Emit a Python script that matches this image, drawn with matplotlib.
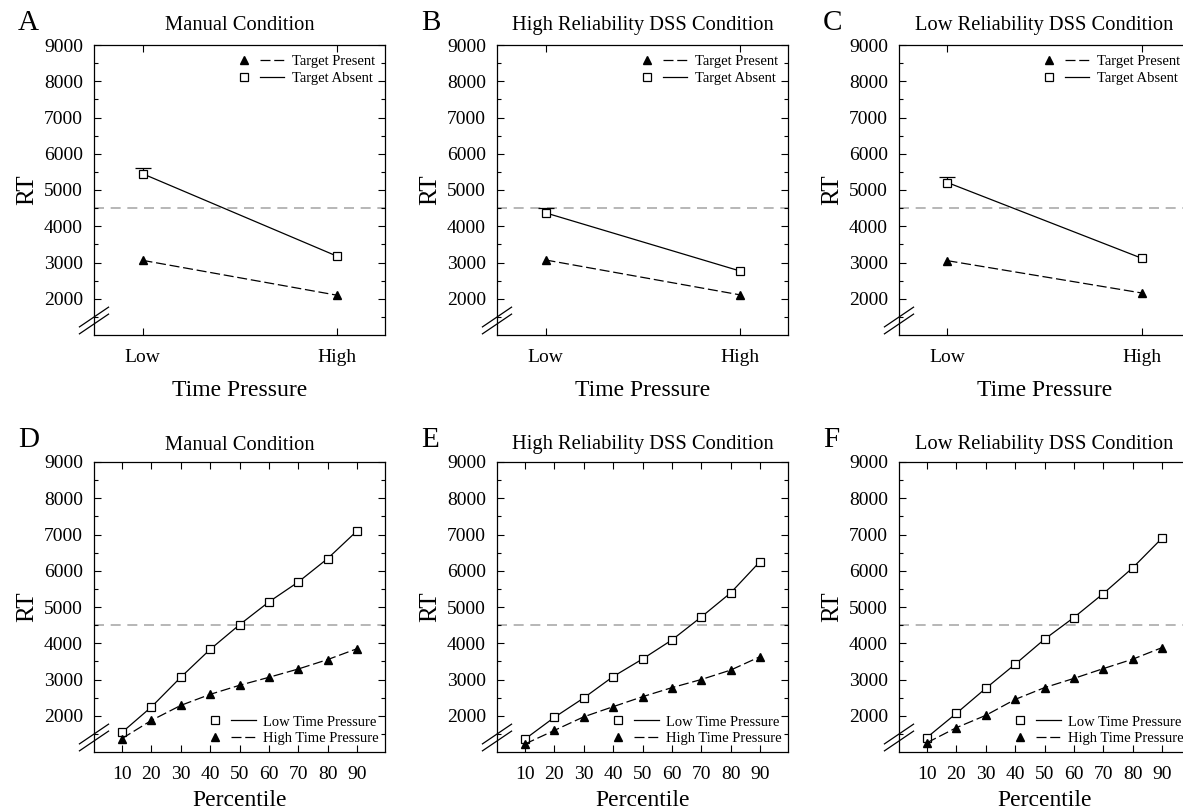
import matplotlib
matplotlib.use("Agg")
import matplotlib.pyplot as plt
from matplotlib.lines import Line2D
from matplotlib.legend_handler import HandlerTuple
import numpy as np

plt.rcParams['font.family'] = ['Liberation Serif', 'DejaVu Serif']

# ---------------- data ----------------
pressure_labels = ["Low", "High"]
titles = ["Manual Condition", "High Reliability DSS Condition", "Low Reliability DSS Condition"]
top_letters = ["A", "B", "C"]
bottom_letters = ["D", "E", "F"]

target_present = [[3060, 2100], [3070, 2110], [3050, 2160]]
target_absent = [[5450, 3180], [4370, 2770], [5205, 3120]]
target_absent_err_up = [150, 140, 150]

percentiles = [10, 20, 30, 40, 50, 60, 70, 80, 90]
low_tp = [
    [1540, 2240, 3060, 3830, 4510, 5140, 5690, 6337, 7100],
    [1355, 1955, 2490, 3080, 3565, 4090, 4725, 5390, 6255],
    [1400, 2065, 2755, 3420, 4110, 4710, 5370, 6080, 6900],
]
high_tp = [
    [1370, 1870, 2285, 2590, 2840, 3060, 3290, 3550, 3850],
    [1220, 1595, 1970, 2250, 2525, 2775, 3000, 3260, 3630],
    [1255, 1670, 2010, 2450, 2775, 3030, 3300, 3560, 3880],
]
deadline = 4500

# ---------------- layout ----------------
W, H = 1183, 809
fig = plt.figure(figsize=(W / 100, H / 100), dpi=100)

col_left = [94, 497, 899]
ax_w = 291
ax_h = 290
row_top = [45, 462]

DASH = (0, (8, 3))
GREY = '#aaaaaa'
SQ_MS = 5.5
TRI_MS = 5.5


def make_ax(col, row):
    l = col_left[col]
    t = row_top[row]
    return fig.add_axes([l / W, 1 - (t + ax_h) / H, ax_w / W, ax_h / H])


def style_ax(ax):
    ax.set_ylim(1000, 9000)
    ax.set_yticks(range(2000, 9001, 1000))
    ax.set_yticks(range(1500, 9000, 1000), minor=True)
    ax.tick_params(axis='both', which='both', direction='in', top=True, right=True,
                   labelsize=14, width=0.8)
    ax.tick_params(axis='both', which='major', length=5, pad=8)
    ax.tick_params(axis='x', which='major', pad=10)
    ax.tick_params(axis='both', which='minor', length=3)
    ax.tick_params(axis='x', which='minor', top=False, bottom=False)
    for s in ax.spines.values():
        s.set_linewidth(0.9)
    ax.set_ylabel("RT", fontsize=18, labelpad=4)
    ax.axhline(deadline, color=GREY, lw=1.2, ls=(0, (6, 4)), zorder=1)
    # axis break marks
    for c in (0.038, 0.062):
        ax.plot([-0.05, 0.05], [c - 0.034, c + 0.034], transform=ax.transAxes,
                color='black', lw=0.9, clip_on=False, zorder=5)


def legend(ax, handles, labels, loc, pad):
    leg = ax.legend(handles, labels, loc=loc, frameon=False, fontsize=10.5,
                    handler_map={tuple: HandlerTuple(ndivide=None, pad=0.3)},
                    handlelength=3.6, labelspacing=0.25, handletextpad=0.5,
                    borderaxespad=pad)
    return leg


tri_h = Line2D([], [], marker='^', color='black', ms=TRI_MS, ls='none')
sq_h = Line2D([], [], marker='s', mfc='white', mec='black', ms=SQ_MS, mew=0.9, ls='none')
dash_h = Line2D([], [], color='black', lw=0.9, ls=DASH)
solid_h = Line2D([], [], color='black', lw=0.9, ls='-')

# ---------------- top row ----------------
xpos = np.arange(len(pressure_labels))
for i in range(3):
    ax = make_ax(i, 0)
    style_ax(ax)
    y0 = target_absent[i][0]
    y1 = y0 + target_absent_err_up[i]
    ax.vlines(xpos[0], y0, y1, color='black', lw=0.9, zorder=2)
    ax.plot([xpos[0]], [y1], marker='_', ms=12, mew=0.9, color='black', ls='none', zorder=2)
    ax.plot(xpos, target_present[i], color='black', lw=0.9, ls=DASH, marker='^', ms=TRI_MS, zorder=3)
    ax.plot(xpos, target_absent[i], color='black', lw=0.9, ls='-', marker='s', ms=SQ_MS,
            mfc='white', mec='black', mew=0.9, zorder=3)
    ax.set_xlim(-0.25, 1.25)
    ax.set_xticks(xpos)
    ax.set_xticklabels(pressure_labels)
    ax.set_xlabel("Time Pressure", fontsize=17, labelpad=10)
    ax.set_title(titles[i], fontsize=14.8, pad=11)
    legend(ax, [(tri_h, dash_h), (sq_h, solid_h)], ["Target Present", "Target Absent"], 'upper right', 0.3)
    fig.text((col_left[i] - 76) / W, 1 - 30 / H, top_letters[i], fontsize=21)

# ---------------- bottom row ----------------
for i in range(3):
    ax = make_ax(i, 1)
    style_ax(ax)
    ax.plot(percentiles, low_tp[i], color='black', lw=0.9, ls='-', marker='s', ms=SQ_MS,
            mfc='white', mec='black', mew=0.9, zorder=3)
    ax.plot(percentiles, high_tp[i], color='black', lw=0.9, ls=DASH, marker='^', ms=TRI_MS, zorder=3)
    ax.set_xlim(0.5, 99.5)
    ax.set_xticks(percentiles)
    ax.set_xlabel("Percentile", fontsize=17, labelpad=5)
    ax.set_title(titles[i], fontsize=14.8, pad=9)
    legend(ax, [(sq_h, solid_h), (tri_h, dash_h)], ["Low Time Pressure", "High Time Pressure"], 'lower right', 0.05)
    fig.text((col_left[i] - 76) / W, 1 - 447 / H, bottom_letters[i], fontsize=21)

fig.savefig("out.png", dpi=100)
